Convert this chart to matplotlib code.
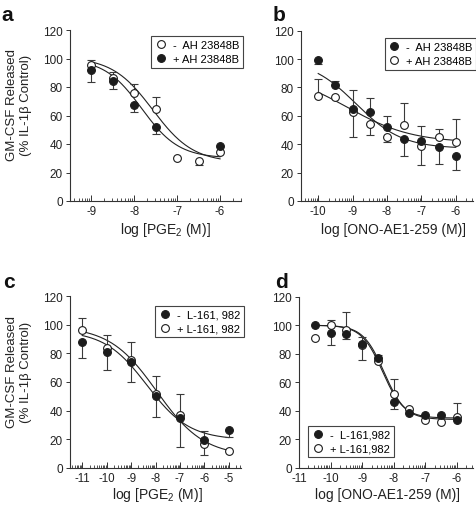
import numpy as np
import matplotlib
matplotlib.use("Agg")
import matplotlib.pyplot as plt
from matplotlib.ticker import FixedLocator
from matplotlib.lines import Line2D

plt.rcParams['font.family'] = ['Liberation Sans', 'DejaVu Sans']
plt.rcParams['mathtext.fontset'] = 'custom'
plt.rcParams['mathtext.rm'] = 'Liberation Sans'
plt.rcParams['mathtext.it'] = 'Liberation Sans:italic'
plt.rcParams['mathtext.default'] = 'regular'
plt.rcParams['axes.unicode_minus'] = False

# ---------------- data ----------------
# Panel a : PGE2 +/- AH 23848B
a_x_open = [-9, -8.5, -8, -7.5, -7, -6.5, -6]
a_y_open = [95.7, 86.4, 75.6, 64.9, 30.4, 27.8, 34.3]
a_lo_open = [0, 0, 0, 0, 0, 2.8, 0]
a_hi_open = [3.1, 4.0, 6.4, 7.9, 0, 0, 0]
a_x_fill = [-9, -8.5, -8, -7.5, -6]
a_y_fill = [92.2, 84.3, 67.7, 52.0, 38.3]
a_lo_fill = [8.4, 5.6, 5.4, 4.8, 0]
a_hi_fill = [0, 0, 0, 0, 0]
a_fit_open = [101, 27, -7.57, 0.92]   # top, bottom, logEC50, hill
a_fit_fill = [100, 30, -7.83, 1.0]
a_fit_range = [-9, -6]

# Panel b : ONO-AE1-259 +/- AH 23848B
b_x = [-10, -9.5, -9, -8.5, -8, -7.5, -7, -6.5, -6]
b_y_fill = [99.4, 81.7, 64.6, 63.0, 52.4, 43.7, 42.5, 38.3, 32.0]
b_lo_fill = [2.9, 0, 0, 0, 0, 12.2, 0, 12.3, 10.0]
b_hi_fill = [0, 3.1, 0, 9.6, 7.7, 0, 10.5, 0, 0]
b_y_open = [74.2, 73.0, 62.5, 54.3, 44.9, 53.6, 39.0, 44.9, 41.8]
b_lo_open = [0, 0, 17.5, 7.8, 3.6, 0, 13.6, 0, 0]
b_hi_open = [11.8, 0, 15.5, 0, 0, 15.4, 0, 5.8, 16.0]
b_fit_fill = [100, 37, -8.9, 0.65]
b_fit_open = [91, 41, -9.15, 0.46]
b_fit_range = [-10, -6]

# Panel c : PGE2 +/- L-161,982
c_x = [-11, -10, -9, -8, -7, -6, -5]
c_y_fill = [88.2, 80.8, 74.2, 50.4, 34.6, 19.4, 26.6]
c_lo_fill = [11.4, 12.2, 14.0, 14.7, 20.3, 0, 5.0]
c_hi_fill = [0, 0, 0, 0, 0, 6.5, 0]
c_y_open = [96.6, 83.6, 75.1, 51.3, 37.1, 16.6, 11.7]
c_lo_open = [0, 0, 0, 0, 0, 7.7, 0]
c_hi_open = [8.4, 9.3, 13.1, 12.7, 14.5, 0, 0]
c_fit_fill = [96, 19.5, -8.35, 0.5]
c_fit_open = [99, 8, -7.95, 0.45]
c_fit_range = [-11, -5]

# Panel d : ONO-AE1-259 +/- L-161,982
d_x = [-10.5, -10, -9.5, -9, -8.5, -8, -7.5, -7, -6.5, -6]
d_y_fill = [100.2, 94.8, 93.9, 86.9, 76.8, 46.2, 38.8, 37.4, 37.4, 33.6]
d_lo_fill = [0, 8.6, 3.5, 11.3, 0, 5.1, 0, 0, 0, 0]
d_hi_fill = [0, 0, 0, 0, 2.6, 0, 0, 0, 0, 0]
d_y_open = [90.8, 100.4, 96.9, 86.2, 75.2, 51.8, 41.1, 33.9, 32.0, 36.0]
d_lo_open = [0, 0, 0, 0, 0, 0, 0, 0, 0, 0]
d_hi_open = [0, 3.3, 12.1, 5.8, 0, 10.5, 0, 0, 0, 9.8]
d_fit_fill = [100, 35, -8.35, 1.3]
d_fit_open = [100, 34, -8.30, 1.3]
d_fit_range = [-10.5, -6]

y_ticks = [0, 20, 40, 60, 80, 100, 120]
ylabel_text = "GM-CSF Released\n(% IL-1\u03b2 Control)"

# ---------------- figure ----------------
W, H = 477, 510
fig = plt.figure(figsize=(W / 100, H / 100), dpi=100)
fig.patch.set_facecolor('white')

INK = '#1c1c1c'
ERR = '#3a3a3a'
MS = 5.6


def px_axes(l, r, t, b):
    return fig.add_axes([l / W, 1 - b / H, (r - l) / W, (b - t) / H])


def four_pl(x, p):
    top, bottom, c, h = p
    return bottom + (top - bottom) / (1 + 10 ** ((x - c) * h))


def draw_series(ax, x, y, lo, hi, filled):
    x = np.asarray(x, float); y = np.asarray(y, float)
    lo = np.asarray(lo, float); hi = np.asarray(hi, float)
    for i in range(len(x)):
        if lo[i] > 0:
            ax.errorbar([x[i]], [y[i]], yerr=[[lo[i]], [0]], fmt='none',
                        ecolor=ERR, elinewidth=0.8, capsize=2.6, capthick=0.8,
                        zorder=2)
        if hi[i] > 0:
            ax.errorbar([x[i]], [y[i]], yerr=[[0], [hi[i]]], fmt='none',
                        ecolor=ERR, elinewidth=0.8, capsize=2.6, capthick=0.8,
                        zorder=2)
    ax.plot(x, y, linestyle='none', marker='o', ms=MS,
            mfc=INK if filled else 'white', mec=INK, mew=0.8,
            zorder=4 if filled else 3, clip_on=False)


def draw_fit(ax, p, rng):
    xs = np.linspace(rng[0], rng[1], 200)
    ax.plot(xs, four_pl(xs, p), color='#222222', lw=0.8, zorder=1)


def style_axes(ax, xlim, major):
    ax.set_xlim(*xlim)
    ax.set_ylim(0, 120)
    for s in ['top', 'right']:
        ax.spines[s].set_visible(False)
    for s in ['left', 'bottom']:
        ax.spines[s].set_linewidth(0.8)
        ax.spines[s].set_color('#333333')
    ax.set_yticks(y_ticks)
    ax.set_yticklabels([str(v) for v in y_ticks])
    ax.set_xticks(major)
    ax.set_xticklabels([str(v) for v in major])
    minors = []
    for n in range(int(np.floor(xlim[0])) - 1, int(np.ceil(xlim[1])) + 1):
        for k in range(2, 10):
            v = n + np.log10(k)
            if xlim[0] < v < xlim[1]:
                minors.append(v)
    ax.xaxis.set_minor_locator(FixedLocator(minors))
    ax.tick_params(axis='x', which='major', direction='in', length=4,
                   width=0.7, labelsize=8.3, pad=3, colors='#333333',
                   labelcolor='#222222')
    ax.tick_params(axis='x', which='minor', direction='in', length=2.2,
                   width=0.6, colors='#333333')
    ax.tick_params(axis='y', which='major', direction='out', length=3,
                   width=0.7, labelsize=8.5, pad=2, colors='#333333',
                   labelcolor='#222222')


def legend(ax, entries, loc, anchor):
    handles = [Line2D([], [], linestyle='none', marker='o', ms=MS,
                      mfc=INK if f else 'white', mec=INK, mew=0.8)
               for f, _ in entries]
    labels = [t for _, t in entries]
    lg = ax.legend(handles, labels, loc=loc, bbox_to_anchor=anchor,
                   borderaxespad=0, fontsize=8, frameon=True, fancybox=False,
                   handlelength=1.0, handletextpad=0.6, labelspacing=0.35,
                   borderpad=0.35, framealpha=1)
    lg.get_frame().set_edgecolor('#444444')
    lg.get_frame().set_linewidth(0.8)


# Panel a
ax_a = px_axes(70, 241.5, 31, 202)
draw_fit(ax_a, a_fit_open, a_fit_range)
draw_fit(ax_a, a_fit_fill, a_fit_range)
draw_series(ax_a, a_x_open, a_y_open, a_lo_open, a_hi_open, False)
draw_series(ax_a, a_x_fill, a_y_fill, a_lo_fill, a_hi_fill, True)
style_axes(ax_a, (-9.5, -5.5), [-9, -8, -7, -6])
legend(ax_a, [(False, '-  AH 23848B'), (True, '+ AH 23848B')],
       'upper right', (1.01, 0.965))

# Panel b
ax_b = px_axes(301, 473, 31.7, 202)
draw_fit(ax_b, b_fit_fill, b_fit_range)
draw_fit(ax_b, b_fit_open, b_fit_range)
draw_series(ax_b, b_x, b_y_open, b_lo_open, b_hi_open, False)
draw_series(ax_b, b_x, b_y_fill, b_lo_fill, b_hi_fill, True)
style_axes(ax_b, (-10.5, -5.5), [-10, -9, -8, -7, -6])
legend(ax_b, [(True, '-  AH 23848B'), (False, '+ AH 23848B')],
       'upper right', (1.02, 0.957))

# Panel c
ax_c = px_axes(70, 241, 297.3, 468.7)
draw_fit(ax_c, c_fit_fill, c_fit_range)
draw_fit(ax_c, c_fit_open, c_fit_range)
draw_series(ax_c, c_x, c_y_open, c_lo_open, c_hi_open, False)
draw_series(ax_c, c_x, c_y_fill, c_lo_fill, c_hi_fill, True)
style_axes(ax_c, (-11.5, -4.5), [-11, -10, -9, -8, -7, -6, -5])
legend(ax_c, [(True, '-  L-161, 982'), (False, '+ L-161, 982')],
       'upper right', (1.02, 0.945))

# Panel d
ax_d = px_axes(299, 472.5, 297.7, 469)
draw_fit(ax_d, d_fit_fill, d_fit_range)
draw_fit(ax_d, d_fit_open, d_fit_range)
draw_series(ax_d, d_x, d_y_open, d_lo_open, d_hi_open, False)
draw_series(ax_d, d_x, d_y_fill, d_lo_fill, d_hi_fill, True)
style_axes(ax_d, (-11, -5.5), [-11, -10, -9, -8, -7, -6])
legend(ax_d, [(True, '-  L-161,982'), (False, '+ L-161,982')],
       'lower left', (0.054, 0.062))

# axis titles
fig.text(19 / W, 1 - 105 / H, ylabel_text, rotation=90, ha='center',
         va='center', fontsize=9.5, color='#222222', linespacing=1.15,
         multialignment='center')
fig.text(19 / W, 1 - 372 / H, ylabel_text, rotation=90, ha='center',
         va='center', fontsize=9.5, color='#222222', linespacing=1.15,
         multialignment='center')
fig.text(165 / W, 1 - 230 / H, 'log [PGE$_2$ (M)]', ha='center', va='center',
         fontsize=10, color='#222222')
fig.text(394 / W, 1 - 230 / H, 'log [ONO-AE1-259 (M)]', ha='center',
         va='center', fontsize=10, color='#222222')
fig.text(157 / W, 1 - 495 / H, 'log [PGE$_2$ (M)]', ha='center', va='center',
         fontsize=10, color='#222222')
fig.text(388 / W, 1 - 495 / H, 'log [ONO-AE1-259 (M)]', ha='center',
         va='center', fontsize=10, color='#222222')

# panel letters
for lab, x, y in [('a', 1, 21), ('b', 273, 21), ('c', 3, 288), ('d', 275, 288)]:
    fig.text(x / W, 1 - y / H, lab, fontsize=15, fontweight='bold',
             ha='left', va='baseline', color='#111111')

fig.savefig('out.png', dpi=100)
